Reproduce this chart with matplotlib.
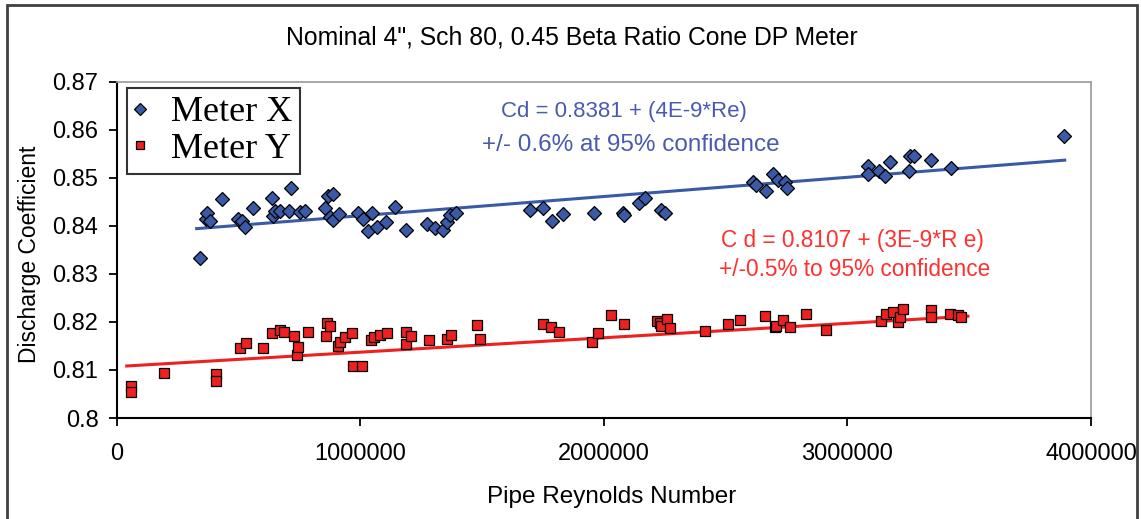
import matplotlib.pyplot as plt
from matplotlib.patches import Rectangle

# Meter X readings (Re, Cd)
reX = [342600, 367000, 372600, 383700, 431700, 500000, 513700, 527000, 561400, 636800,
       643500, 650400, 670900, 709000, 714800, 753000, 773500, 855500, 869000, 876000,
       887000, 889600, 914000, 992000, 1012700, 1033000, 1047000, 1070000, 1105800, 1142800,
       1188000, 1273000, 1307000, 1341000, 1355000, 1368500, 1393000, 1696700, 1751500, 1786000,
       1831000, 1959400, 2077000, 2082500, 2145000, 2168600, 2237000, 2250700, 2613000, 2624000,
       2665000, 2695000, 2715000, 2743000, 2752000, 3085000, 3085000, 3130000, 3153000, 3177000,
       3253000, 3256000, 3272000, 3345000, 3427000, 3888000]
cdX = [0.8332, 0.8415, 0.8427, 0.8410, 0.8455, 0.8415, 0.8410, 0.8397, 0.8438, 0.8458,
       0.8420, 0.8431, 0.8430, 0.8431, 0.8479, 0.8428, 0.8431, 0.8438, 0.8463, 0.8419,
       0.8467, 0.8412, 0.8424, 0.8426, 0.8415, 0.8390, 0.8426, 0.8397, 0.8408, 0.8439,
       0.8392, 0.8403, 0.8396, 0.8392, 0.8408, 0.8422, 0.8427, 0.8432, 0.8437, 0.8410,
       0.8424, 0.8427, 0.8427, 0.8422, 0.8448, 0.8457, 0.8433, 0.8427, 0.8491, 0.8484,
       0.8472, 0.8507, 0.8496, 0.8491, 0.8479, 0.8525, 0.8507, 0.8515, 0.8503, 0.8533,
       0.8514, 0.8545, 0.8545, 0.8538, 0.8521, 0.8588]

# Meter Y readings (Re, Cd)
reY = [58000, 58000, 196000, 408000, 408000, 506700, 531000, 602000, 637000, 671000,
       688500, 729600, 739500, 746000, 787000, 860000, 862600, 876000, 910000, 917000,
       937700, 965000, 971800, 1006000, 1043000, 1056000, 1081000, 1108800, 1188000, 1188000,
       1207000, 1283000, 1355000, 1371000, 1478000, 1494000, 1749000, 1783000, 1817000, 1950000,
       1977000, 2028000, 2082500, 2217000, 2230000, 2237000, 2257700, 2271000, 2415000, 2510000,
       2561000, 2661000, 2702000, 2706000, 2736000, 2764000, 2832000, 2914000, 3140000, 3160000,
       3188000, 3208000, 3215000, 3229000, 3345000, 3345000, 3420000, 3454000, 3468000]
cdY = [0.8067, 0.8055, 0.8093, 0.8091, 0.8078, 0.8145, 0.8157, 0.8145, 0.8176, 0.8184,
       0.8179, 0.8171, 0.8131, 0.8147, 0.8179, 0.8171, 0.8198, 0.8191, 0.8150, 0.8159,
       0.8169, 0.8176, 0.8108, 0.8108, 0.8162, 0.8169, 0.8173, 0.8176, 0.8179, 0.8155,
       0.8170, 0.8162, 0.8165, 0.8173, 0.8193, 0.8165, 0.8195, 0.8190, 0.8179, 0.8159,
       0.8177, 0.8214, 0.8195, 0.8202, 0.8197, 0.8191, 0.8207, 0.8188, 0.8182, 0.8195,
       0.8205, 0.8212, 0.8189, 0.8191, 0.8205, 0.8190, 0.8216, 0.8184, 0.8202, 0.8216,
       0.8221, 0.8200, 0.8211, 0.8226, 0.8225, 0.8211, 0.8216, 0.8214, 0.8211]

# trendlines as printed on the chart: Cd = a + b*Re, drawn over the Re range
fitX = (0.8381, 4e-9, 329000, 3892000)
fitY = (0.8107, 3e-9, 42000, 3495000)

yticks = [0.80, 0.81, 0.82, 0.83, 0.84, 0.85, 0.86, 0.87]
ylabels = ['0.8', '0.81', '0.82', '0.83', '0.84', '0.85', '0.86', '0.87']
xticks = [0, 1000000, 2000000, 3000000, 4000000]

blue = '#3a5aa8'
red = '#ee2020'
W, H = 1141, 519

plt.rcParams['font.family'] = ['Liberation Sans', 'DejaVu Sans']
fig = plt.figure(figsize=(W / 100, H / 100), dpi=100)
ax = fig.add_axes([116.5 / W, 1 - 418 / H, (1091 - 116.5) / W, (418 - 81.7) / H])

for (a, b, x0, x1), c in [(fitX, blue), (fitY, red)]:
    ax.plot([x0, x1], [a + b * x0, a + b * x1], color=c, lw=2.2, zorder=2)

ax.plot(reX, cdX, 'D', color=blue, mec='black', mew=0.9, ms=7.5, label='Meter X', zorder=3)
ax.plot(reY, cdY, 's', color=red, mec='black', mew=0.9, ms=6.5, label='Meter Y', zorder=3)

ax.set_xlim(0, 4000000)
ax.set_ylim(0.80, 0.87)
ax.set_xticks(xticks)
ax.set_xticklabels([str(t) for t in xticks])
ax.set_yticks(yticks)
ax.set_yticklabels(ylabels)
ax.tick_params(axis='both', direction='out', length=6, width=1.3, labelsize=17, colors='black')
ax.tick_params(axis='x', pad=12)
ax.tick_params(axis='y', pad=7)
for s in ['left', 'bottom']:
    ax.spines[s].set_linewidth(1.5)
    ax.spines[s].set_color('black')
for s in ['top', 'right']:
    ax.spines[s].set_linewidth(1.3)
    ax.spines[s].set_color('#a0a0a0')

fig.text(572 / W, 1 - 37 / H, 'Nominal 4", Sch 80, 0.45 Beta Ratio Cone DP Meter',
         ha='center', va='center', fontsize=17.8)
fig.text(612 / W, 1 - 497 / H, 'Pipe Reynolds Number', ha='center', va='center', fontsize=17.5)
fig.text(30 / W, 1 - 254 / H, 'Discharge Coefficient', ha='center', va='center',
         rotation=90, fontsize=16.5)

fig.text(624 / W, 1 - 112 / H, 'Cd = 0.8381 + (4E-9*Re)', ha='center', va='center',
         fontsize=16, color='#4a5ab0')
fig.text(631 / W, 1 - 145 / H, '+/- 0.6% at 95% confidence', ha='center', va='center',
         fontsize=17.5, color='#4a5ab0')
fig.text(852 / W, 1 - 240 / H, 'C d = 0.8107 + (3E-9*R e)', ha='center', va='center',
         fontsize=16.3, color='#ff3030')
fig.text(855 / W, 1 - 270 / H, '+/-0.5% to 95% confidence', ha='center', va='center',
         fontsize=16.3, color='#ff3030')

leg = ax.legend(loc='upper left', bbox_to_anchor=(127 / W, 1 - 88 / H), bbox_transform=fig.transFigure,
                borderaxespad=0, fancybox=False, frameon=True, handlelength=0.3, handletextpad=0.7,
                borderpad=0.22, labelspacing=0.1, markerscale=0.8,
                prop={'family': 'Liberation Serif', 'size': 26})
leg.get_frame().set_edgecolor('black')
leg.get_frame().set_linewidth(1.5)

fig.patches.append(Rectangle((7 / W, -0.05), (1137 - 7) / W, 1.05 - 5 / H, transform=fig.transFigure,
                             fill=False, edgecolor='#404040', lw=2, clip_on=False))

fig.savefig('out.png', dpi=100)
